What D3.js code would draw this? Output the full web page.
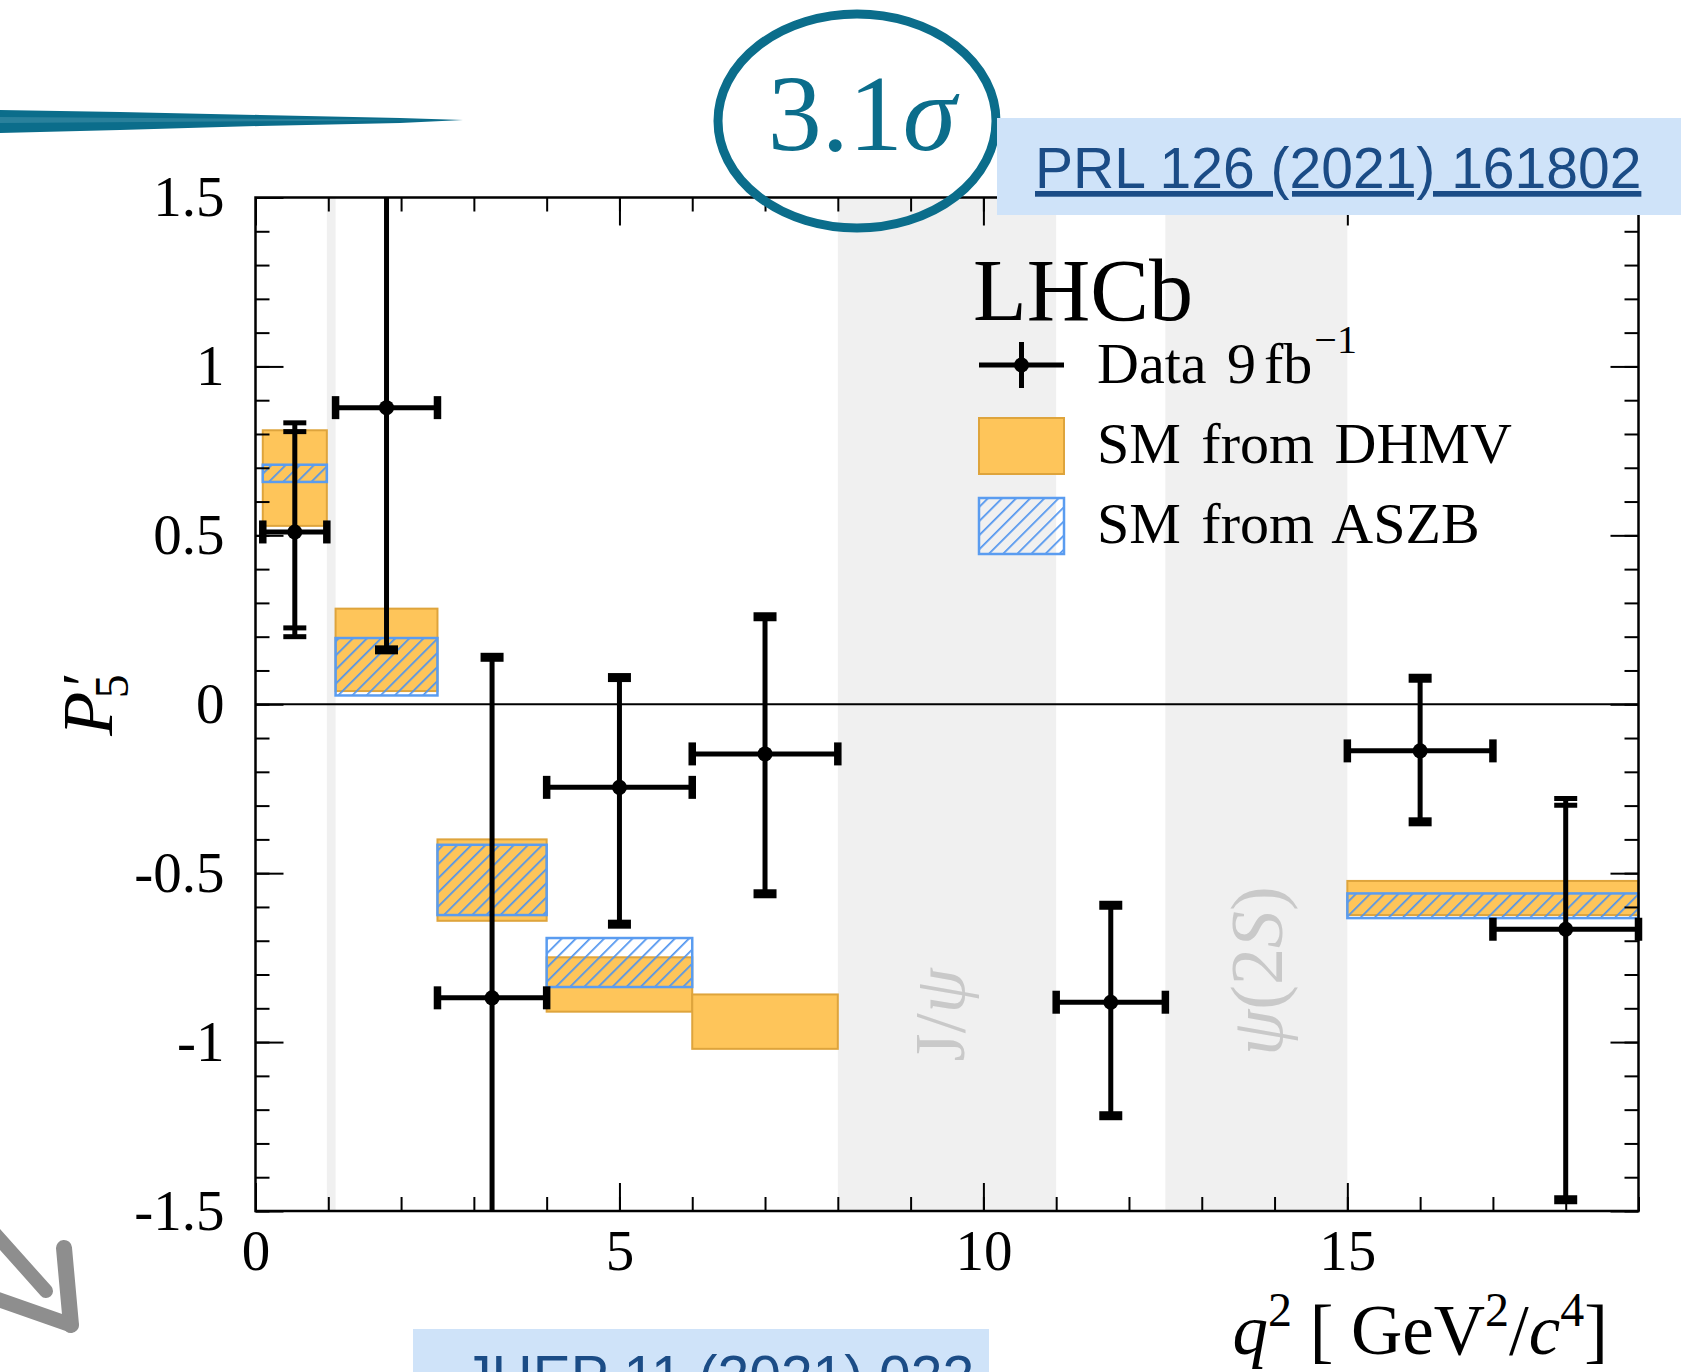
<!DOCTYPE html>
<html>
<head>
<meta charset="utf-8">
<script src="https://cdn.jsdelivr.net/npm/d3@7"></script>
<style>
  body { margin: 0; background: #fff; }
  svg { display: block; }
  .tick line { stroke: #000; stroke-width: 2; }
  .tick text { font-family: "Liberation Serif", serif; font-size: 57px; fill: #000; }
</style>
</head>
<body>
<script>
// q^2 bins of the data
const binLo = [0.1, 1.1, 2.5, 4, 6, 11, 15, 17];
const binHi = [0.98, 2.5, 4, 6, 8, 12.5, 17, 19];
const p5 = [0.51, 0.878, -0.869, -0.246, -0.147, -0.882, -0.138, -0.666];
// total uncertainty band (upper / lower end)
const p5Up = [0.833, 1.62, 0.139, 0.079, 0.259, -0.595, 0.077, -0.279];
const p5Down = [0.200, 0.161, -1.90, -0.651, -0.561, -1.218, -0.348, -1.467];
// statistical-only ends, where a second cap is visible
const statUp = [0.807, null, null, null, null, null, null, -0.299];
const statDown = [0.226, null, null, null, null, null, null, null];

// SM from DHMV
const dhmvLo = [0.1, 1.1, 2.5, 4, 6, 15];
const dhmvHi = [0.98, 2.5, 4, 6, 8, 19];
const dhmvTop = [0.811, 0.283, -0.400, -0.749, -0.859, -0.523];
const dhmvBot = [0.528, 0.039, -0.641, -0.910, -1.020, -0.624];

// SM from ASZB
const aszbLo = [0.1, 1.1, 2.5, 4, 15];
const aszbHi = [0.98, 2.5, 4, 6, 19];
const aszbTop = [0.709, 0.196, -0.416, -0.692, -0.560];
const aszbBot = [0.658, 0.026, -0.624, -0.837, -0.633];

// vetoed regions
const vetoLo = [0.98, 8, 12.5];
const vetoHi = [1.1, 11, 15];

const xMajor = [0, 5, 10, 15];
const yMajor = [-1.5, -1, -0.5, 0, 0.5, 1, 1.5];

const W = 1690, H = 1372;
let plot = {left: 255.5, right: 1638.5, top: 197.5, bottom: 1211};
const serif = '"Liberation Serif", "Times New Roman", serif';
const sans = '"Liberation Sans", Arial, sans-serif';
const teal = "#0b6d8b";
const orange = "#fec55a", orangeEdge = "#dea43c";
const hatchBlue = "#4d93ef";

let x = d3.scaleLinear().domain([0, 19]).range([plot.left, plot.right]);
let y = d3.scaleLinear().domain([-1.5, 1.5]).range([plot.bottom, plot.top]);

let svg = d3.select("body").append("svg").attr("width", W).attr("height", H);
let defs = svg.append("defs");

defs.append("pattern").attr("id", "hatch")
  .attr("patternUnits", "userSpaceOnUse")
  .attr("width", 10).attr("height", 10)
  .attr("patternTransform", "rotate(45)")
  .append("line")
    .attr("x1", 0).attr("y1", 0).attr("x2", 0).attr("y2", 10)
    .attr("stroke", hatchBlue).attr("stroke-width", 3.4);

defs.append("clipPath").attr("id", "plotclip")
  .append("rect")
    .attr("x", plot.left - 10).attr("y", plot.top)
    .attr("width", plot.right - plot.left + 20).attr("height", plot.bottom - plot.top);

/* veto bands */
svg.append("g").selectAll("rect")
  .data(vetoLo)
  .enter().append("rect")
    .attr("x", (d) => x(d))
    .attr("width", (d, i) => x(vetoHi[i]) - x(d))
    .attr("y", plot.top)
    .attr("height", plot.bottom - plot.top)
    .attr("fill", "#f0f0f0");

/* resonance labels */
svg.append("text")
  .attr("transform", "translate(964,1015) rotate(-90)")
  .attr("text-anchor", "middle")
  .attr("font-family", serif).attr("font-size", 72).attr("fill", "#c9c9c9")
  .html('J/<tspan font-style="italic">ψ</tspan>');
svg.append("text")
  .attr("transform", "translate(1282,971) rotate(-90)")
  .attr("text-anchor", "middle")
  .attr("font-family", serif).attr("font-size", 74).attr("fill", "#c9c9c9")
  .html('<tspan font-style="italic">ψ</tspan>(2<tspan font-style="italic">S</tspan>)');

/* zero line */
svg.append("line")
  .attr("x1", plot.left).attr("x2", plot.right)
  .attr("y1", y(0)).attr("y2", y(0))
  .attr("stroke", "#000").attr("stroke-width", 2);

/* SM predictions */
svg.append("g").selectAll("rect")
  .data(dhmvLo)
  .enter().append("rect")
    .attr("x", (d) => x(d))
    .attr("width", (d, i) => x(dhmvHi[i]) - x(d))
    .attr("y", (d, i) => y(dhmvTop[i]))
    .attr("height", (d, i) => y(dhmvBot[i]) - y(dhmvTop[i]))
    .attr("fill", orange).attr("stroke", orangeEdge).attr("stroke-width", 2);

svg.append("g").selectAll("rect")
  .data(aszbLo)
  .enter().append("rect")
    .attr("x", (d) => x(d))
    .attr("width", (d, i) => x(aszbHi[i]) - x(d))
    .attr("y", (d, i) => y(aszbTop[i]))
    .attr("height", (d, i) => y(aszbBot[i]) - y(aszbTop[i]))
    .attr("fill", "url(#hatch)").attr("stroke", "#5a9cf0").attr("stroke-width", 2.5);

/* data points */
let pts = svg.append("g").attr("clip-path", "url(#plotclip)");
const capW = 23;
p5.forEach(function(v, i) {
  let cx = x((binLo[i] + binHi[i]) / 2);
  let g = pts.append("g").attr("stroke", "#000").attr("fill", "#000");
  g.append("line").attr("x1", cx).attr("x2", cx)
    .attr("y1", y(p5Up[i])).attr("y2", y(p5Down[i])).attr("stroke-width", 5);
  g.append("line").attr("x1", x(binLo[i])).attr("x2", x(binHi[i]))
    .attr("y1", y(v)).attr("y2", y(v)).attr("stroke-width", 5);
  // caps on the vertical bar
  [[p5Up[i], statUp[i]], [p5Down[i], statDown[i]]].forEach(function(c) {
    if (c[1] === null) {
      g.append("line").attr("x1", cx - capW / 2).attr("x2", cx + capW / 2)
        .attr("y1", y(c[0])).attr("y2", y(c[0])).attr("stroke-width", 9);
    } else {
      c.forEach(function(e) {
        g.append("line").attr("x1", cx - capW / 2).attr("x2", cx + capW / 2)
          .attr("y1", y(e)).attr("y2", y(e)).attr("stroke-width", 5);
      });
    }
  });
  // caps on the horizontal bar
  [binLo[i], binHi[i]].forEach(function(e) {
    g.append("line").attr("x1", x(e)).attr("x2", x(e))
      .attr("y1", y(v) - capW / 2).attr("y2", y(v) + capW / 2).attr("stroke-width", 7.5);
  });
  g.append("circle").attr("cx", cx).attr("cy", y(v)).attr("r", 7.5).attr("stroke", "none");
});

/* axes */
const xMinor = d3.range(0, 20, 1);
const yMinor = d3.range(-15, 16).map((d) => d / 10);

function addAxis(axis, tx, ty) {
  let g = svg.append("g").attr("transform", "translate(" + tx + "," + ty + ")").call(axis);
  g.select(".domain").remove();
  return g;
}
addAxis(d3.axisBottom(x).tickValues(xMinor).tickSize(-14).tickFormat(""), 0, plot.bottom);
addAxis(d3.axisBottom(x).tickValues(xMajor).tickSize(-28).tickPadding(19)
  .tickFormat((d) => String(d)), 0, plot.bottom);
addAxis(d3.axisTop(x).tickValues(xMinor).tickSize(-14).tickFormat(""), 0, plot.top);
addAxis(d3.axisTop(x).tickValues(xMajor).tickSize(-28).tickFormat(""), 0, plot.top);
addAxis(d3.axisLeft(y).tickValues(yMinor).tickSize(-14).tickFormat(""), plot.left, 0);
addAxis(d3.axisLeft(y).tickValues(yMajor).tickSize(-28).tickPadding(31)
  .tickFormat((d) => String(d)), plot.left, 0);
addAxis(d3.axisRight(y).tickValues(yMinor).tickSize(-14).tickFormat(""), plot.right, 0);
addAxis(d3.axisRight(y).tickValues(yMajor).tickSize(-28).tickFormat(""), plot.right, 0);

svg.append("rect")
  .attr("x", plot.left).attr("y", plot.top)
  .attr("width", plot.right - plot.left).attr("height", plot.bottom - plot.top)
  .attr("fill", "none").attr("stroke", "#000").attr("stroke-width", 2.5);

/* axis titles */
svg.append("text")
  .attr("x", 1608).attr("y", 1354)
  .attr("text-anchor", "end")
  .attr("font-family", serif).attr("font-size", 71)
  .html('<tspan font-style="italic">q</tspan><tspan dy="-28" font-size="48">2</tspan>'
      + '<tspan dy="28"> [ GeV</tspan><tspan dy="-28" font-size="48">2</tspan>'
      + '<tspan dy="28">/</tspan><tspan font-style="italic">c</tspan>'
      + '<tspan dy="-28" font-size="48">4</tspan><tspan dy="28">]</tspan>');

svg.append("text")
  .attr("transform", "translate(112,705) rotate(-90)")
  .attr("text-anchor", "middle")
  .attr("font-family", serif).attr("font-size", 72)
  .html('<tspan font-style="italic">P</tspan><tspan dx="2" dy="-8" font-size="62" font-style="italic">′</tspan>'
      + '<tspan dx="-22" dy="24" font-size="48">5</tspan>');

/* legend */
svg.append("text")
  .attr("x", 973).attr("y", 320)
  .attr("font-family", serif).attr("font-size", 88)
  .text("LHCb");

let leg = svg.append("g");
leg.append("line").attr("x1", 979).attr("x2", 1064).attr("y1", 365).attr("y2", 365)
  .attr("stroke", "#000").attr("stroke-width", 5);
leg.append("line").attr("x1", 1021.5).attr("x2", 1021.5).attr("y1", 342).attr("y2", 388)
  .attr("stroke", "#000").attr("stroke-width", 5);
leg.append("circle").attr("cx", 1021.5).attr("cy", 365).attr("r", 7.5);
leg.append("rect").attr("x", 979).attr("y", 418).attr("width", 85).attr("height", 56)
  .attr("fill", orange).attr("stroke", orangeEdge).attr("stroke-width", 2);
leg.append("rect").attr("x", 979).attr("y", 498).attr("width", 85).attr("height", 56)
  .attr("fill", "url(#hatch)").attr("stroke", "#5a9cf0").attr("stroke-width", 2.5);

const legendText = ["SM from DHMV", "SM from ASZB"];
const legendBase = [463, 543];
leg.append("text")
  .attr("x", 1097).attr("y", 383)
  .attr("font-family", serif).attr("font-size", 58)
  .html('Data <tspan dx="6">9</tspan><tspan dx="8">fb</tspan><tspan dx="2" dy="-30" font-size="40">−1</tspan>');
legendText.forEach(function(t, i) {
  leg.append("text").attr("x", 1097).attr("y", legendBase[i])
    .attr("font-family", serif).attr("font-size", 58)
    .attr("word-spacing", 6)
    .text(t);
});

/* slide decorations */
svg.append("path")
  .attr("d", "M0,110 L120,112 L260,115 L400,118 L463,120 L400,123 L260,126 L120,130 L0,133 Z")
  .attr("fill", teal);
svg.append("path")
  .attr("d", "M0,117 L300,119 L430,120 L300,121 L0,123 Z")
  .attr("fill", "#3f8fa8").attr("opacity", 0.6);

svg.append("ellipse")
  .attr("cx", 857).attr("cy", 121).attr("rx", 139).attr("ry", 107)
  .attr("fill", "none").attr("stroke", teal).attr("stroke-width", 9);
svg.append("text")
  .attr("x", 862).attr("y", 150)
  .attr("text-anchor", "middle")
  .attr("font-family", serif).attr("font-size", 108).attr("fill", teal)
  .html('3.1<tspan font-style="italic">σ</tspan>');

svg.append("rect")
  .attr("x", 997).attr("y", 118).attr("width", 684).attr("height", 97)
  .attr("fill", "#cfe3f9");
svg.append("text")
  .attr("x", 1035).attr("y", 188)
  .attr("font-family", sans).attr("font-size", 57).attr("fill", "#1b4c86")
  .attr("text-decoration", "underline")
  .text("PRL 126 (2021) 161802");

svg.append("rect")
  .attr("x", 413).attr("y", 1329).attr("width", 576).attr("height", 60)
  .attr("fill", "#cfe3f9");
svg.append("text")
  .attr("x", 463).attr("y", 1396)
  .attr("font-family", sans).attr("font-size", 57).attr("fill", "#1b4c86")
  .text("JHEP 11 (2021) 022");

let arrow = svg.append("g")
  .attr("stroke", "#8e8e8e").attr("fill", "none").attr("stroke-linecap", "round");
arrow.append("path").attr("d", "M-12,1226 L46,1291").attr("stroke-width", 14);
arrow.append("path").attr("d", "M64,1248 L71,1325").attr("stroke-width", 16);
arrow.append("path").attr("d", "M-6,1298 L71,1325").attr("stroke-width", 15);
</script>
</body>
</html>
